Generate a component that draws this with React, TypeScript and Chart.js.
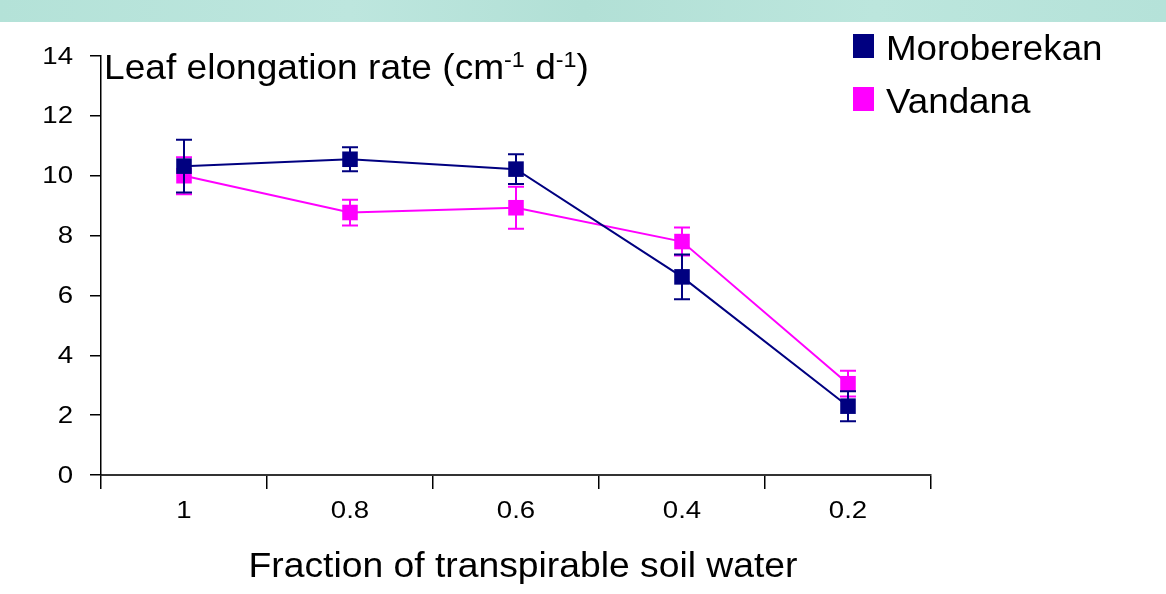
import React, { useEffect, useRef } from "react";
import { Chart, registerables } from "chart.js";

Chart.register(...registerables);

const categories = ["1", "0.8", "0.6", "0.4", "0.2"];
const moroberekan = [10.32, 10.55, 10.22, 6.62, 2.3];
const moroberekanErr = [0.88, 0.4, 0.5, 0.75, 0.5];
const vandana = [10.0, 8.77, 8.93, 7.8, 3.05];
const vandanaErr = [0.62, 0.43, 0.7, 0.47, 0.43];
const yTicks = [0, 2, 4, 6, 8, 10, 12, 14];

const NAVY = "#000080";
const MAGENTA = "#FF00FF";
const FONT = "'Liberation Sans', Arial, sans-serif";

const errs = [moroberekanErr, vandanaErr];

function stretchText(ctx: any, t: string, x: number, y: number, sx: number, align: string) {
  ctx.save();
  const w = ctx.measureText(t).width * sx;
  let left = x;
  if (align === "center") left = x - w / 2;
  else if (align === "right") left = x - w;
  ctx.translate(left, y);
  ctx.scale(sx, 1);
  ctx.textAlign = "left";
  ctx.fillText(t, 0, 0);
  ctx.restore();
  return w;
}

const decorPlugin = {
  id: "decor",
  beforeDraw(chart: any) {
    const ctx = chart.ctx;
    ctx.save();
    ctx.fillStyle = "#ffffff";
    ctx.fillRect(0, 0, chart.width, chart.height);
    const g = ctx.createLinearGradient(0, 0, chart.width, 0);
    g.addColorStop(0, "#b4e2d8");
    g.addColorStop(0.3, "#bde6de");
    g.addColorStop(0.5, "#b2e0d6");
    g.addColorStop(0.75, "#bce6dd");
    g.addColorStop(1, "#b5e2d9");
    ctx.fillStyle = g;
    ctx.fillRect(0, 0, chart.width, 22);
    ctx.restore();
  },
  afterDatasetDraw(chart: any, args: any) {
    const ctx = chart.ctx;
    const xs = chart.scales.x;
    const ys = chart.scales.y;
    const di = args.index;
    const ds = chart.data.datasets[di];
    const e = errs[di];
    ctx.save();
    ctx.strokeStyle = ds.borderColor;
    ctx.lineWidth = 2;
    ds.data.forEach((v: number, i: number) => {
      const x = xs.getPixelForValue(i);
      const yt = ys.getPixelForValue(v + e[i]);
      const yb = ys.getPixelForValue(v - e[i]);
      ctx.beginPath();
      ctx.moveTo(x, yt);
      ctx.lineTo(x, yb);
      ctx.moveTo(x - 8, yt);
      ctx.lineTo(x + 8, yt);
      ctx.moveTo(x - 8, yb);
      ctx.lineTo(x + 8, yb);
      ctx.stroke();
    });
    ctx.restore();
  },
  afterDraw(chart: any) {
    const ctx = chart.ctx;
    const xs = chart.scales.x;
    const ys = chart.scales.y;
    ctx.save();
    ctx.fillStyle = "#000";
    // tick labels
    ctx.font = `24px ${FONT}`;
    ctx.textBaseline = "middle";
    ys.ticks.forEach((t: any, i: number) => {
      const y = ys.getPixelForTick(i);
      stretchText(ctx, String(t.value), 73, y + 1, 1.15, "right");
    });
    xs.ticks.forEach((t: any, i: number) => {
      const x = xs.getPixelForTick(i);
      stretchText(ctx, categories[i], x, 511, 1.15, "center");
    });
    // Y title with superscripts
    ctx.textBaseline = "alphabetic";
    const big = `35px ${FONT}`;
    const small = `22px ${FONT}`;
    let x = 104;
    const base = 79;
    const parts: [string, boolean][] = [
      ["Leaf elongation rate (cm", false],
      ["-1", true],
      [" d", false],
      ["-1", true],
      [")", false],
    ];
    parts.forEach(([t, sup]) => {
      ctx.font = sup ? small : big;
      x += stretchText(ctx, t, x, sup ? base - 12 : base, 1.06, "left");
    });
    // X title
    ctx.font = big;
    stretchText(ctx, "Fraction of transpirable soil water", 523, 577, 1.065, "center");
    // Legend
    const items: [string, string, number][] = [
      ["Moroberekan", NAVY, 60],
      ["Vandana", MAGENTA, 113],
    ];
    items.forEach(([t, c, b]) => {
      ctx.fillStyle = c;
      ctx.fillRect(853, b - 26, 21, 24);
      ctx.fillStyle = "#000";
      stretchText(ctx, t, 886, b, 1.05, "left");
    });
    ctx.restore();
  },
};

export default function App() {
  const ref = useRef<HTMLCanvasElement>(null);
  useEffect(() => {
    if (!ref.current) return;
    const mk = (label: string, data: number[], color: string) => ({
      label,
      data,
      borderColor: color,
      backgroundColor: color,
      borderWidth: 2,
      pointStyle: "rect",
      pointRadius: 11,
      pointBorderWidth: 0,
      pointBackgroundColor: color,
      tension: 0,
      fill: false,
    });
    const chart = new Chart(ref.current, {
      type: "line",
      data: {
        labels: categories,
        datasets: [mk("Moroberekan", moroberekan, NAVY), mk("Vandana", vandana, MAGENTA)],
      },
      options: {
        animation: false,
        responsive: false,
        maintainAspectRatio: false,
        layout: { padding: { left: 0, top: 56, right: 235, bottom: 0 } },
        plugins: { legend: { display: false }, tooltip: { enabled: false } },
        scales: {
          x: {
            type: "category",
            offset: true,
            afterFit: (s: any) => {
              s.height = 119;
            },
            grid: {
              display: true,
              offset: true,
              drawOnChartArea: false,
              drawTicks: true,
              tickLength: 14,
              color: "#000",
              lineWidth: 1.5,
            },
            border: { display: true, color: "#333", width: 2 },
            ticks: { display: false },
          },
          y: {
            type: "linear",
            min: 0,
            max: 14,
            afterFit: (s: any) => {
              s.width = 101;
            },
            afterBuildTicks: (s: any) => {
              s.ticks = yTicks.map((v) => ({ value: v }));
            },
            grid: {
              display: true,
              drawOnChartArea: false,
              drawTicks: true,
              tickLength: 11,
              color: "#000",
              lineWidth: 1.5,
            },
            border: { display: true, color: "#000", width: 1.5 },
            ticks: { display: false },
          },
        },
      },
      plugins: [decorPlugin],
    } as any);
    return () => chart.destroy();
  }, []);
  return (
    <div style={{ position: "fixed", left: 0, top: 0, width: 1166, height: 594 }}>
      <canvas ref={ref} width={1166} height={594} style={{ width: 1166, height: 594, display: "block" }} />
    </div>
  );
}
